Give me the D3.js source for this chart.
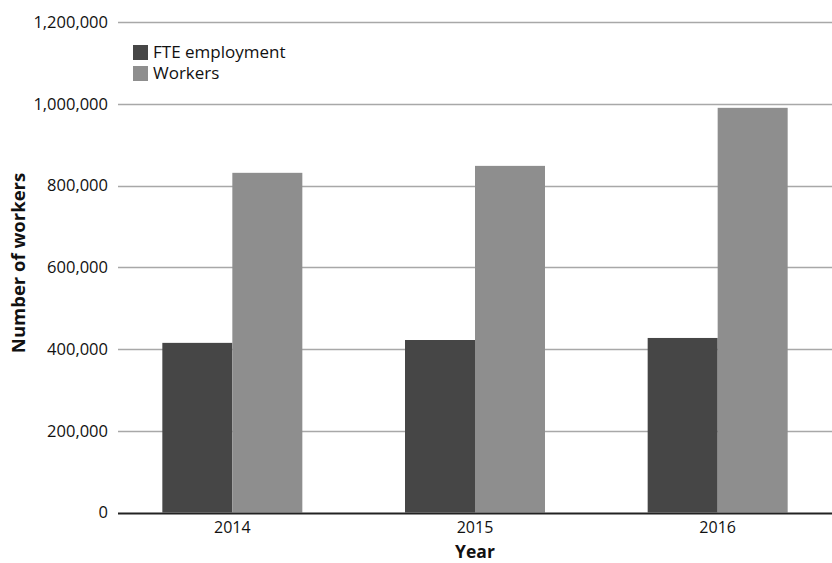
<!DOCTYPE html>
<html>
<head>
<meta charset="utf-8">
<script src="https://cdn.jsdelivr.net/npm/d3@7"></script>
<style>
  body { margin: 0; background: #fff; }
  text { font-family: "Open Sans", "Noto Sans", sans-serif; fill: #111; }
</style>
</head>
<body>
<div id="chart"></div>
<script>
// chart values
var years = ["2014", "2015", "2016"];
var seriesNames = ["FTE employment", "Workers"];
var fteValues = [415000, 422000, 427000];
var workerValues = [831000, 848000, 990000];
var yTicks = [0, 200000, 400000, 600000, 800000, 1000000, 1200000];

var width = 832, height = 563;
var colors = ["#464646", "#8e8e8e"];

var svg = d3.select("#chart").append("svg")
    .attr("width", width)
    .attr("height", height);

var y = d3.scaleLinear().domain([0, 1200000]).range([512.5, 22]);

// bands are a bit wider than the visible plot, last one runs off the edge
var x = d3.scaleBand().domain(years).range([111, 839]);
var xInner = d3.scaleBand().domain(seriesNames).range([0, 140]);

// gridlines
svg.append("g").selectAll("line")
    .data(yTicks.filter(function(d) { return d > 0; }))
    .enter().append("line")
    .attr("x1", 118).attr("x2", width)
    .attr("y1", function(d) { return Math.round(y(d)) + 0.5; })
    .attr("y2", function(d) { return Math.round(y(d)) + 0.5; })
    .style("stroke", "#a8a8a8")
    .style("stroke-width", 1.3);

// y tick labels
svg.append("g").selectAll("text")
    .data(yTicks)
    .enter().append("text")
    .attr("x", 108)
    .attr("y", function(d) { return y(d); })
    .attr("dy", "0.35em")
    .attr("text-anchor", "end")
    .style("font-size", "16.5px")
    .text(function(d) { return d3.format(",")(d); });

// bars
var rows = years.map(function(yr, i) {
    return { year: yr, values: [fteValues[i], workerValues[i]] };
});

var groups = svg.append("g").selectAll("g")
    .data(rows)
    .enter().append("g")
    .attr("transform", function(d) {
        return "translate(" + (x(d.year) + x.bandwidth() / 2 - 70) + ",0)";
    });

groups.selectAll("rect")
    .data(function(d) {
        return d.values.map(function(v, j) { return { name: seriesNames[j], value: v, i: j }; });
    })
    .enter().append("rect")
    .attr("x", function(d) { return xInner(d.name); })
    .attr("width", xInner.bandwidth())
    .attr("y", function(d) { return y(d.value); })
    .attr("height", function(d) { return y(0) - y(d.value); })
    .style("fill", function(d) { return colors[d.i]; });

// baseline
svg.append("line")
    .attr("x1", 118).attr("x2", width)
    .attr("y1", 513.5).attr("y2", 513.5)
    .style("stroke", "#222")
    .style("stroke-width", 2.2);

// x tick labels
svg.append("g").selectAll("text")
    .data(years)
    .enter().append("text")
    .attr("x", function(d) { return x(d) + x.bandwidth() / 2; })
    .attr("y", 533)
    .attr("text-anchor", "middle")
    .style("font-size", "16px")
    .text(function(d) { return d; });

// axis titles
svg.append("text")
    .attr("x", 475)
    .attr("y", 557.5)
    .attr("text-anchor", "middle")
    .style("font-size", "17.5px")
    .style("font-weight", "bold")
    .text("Year");

svg.append("text")
    .attr("transform", "translate(25,263) rotate(-90)")
    .attr("text-anchor", "middle")
    .style("font-size", "18.5px")
    .style("font-weight", "bold")
    .text("Number of workers");

// legend
var legend = svg.append("g").selectAll("g")
    .data(seriesNames)
    .enter().append("g")
    .attr("transform", function(d, i) { return "translate(133," + (45 + i * 21) + ")"; });

legend.append("rect")
    .attr("width", 15).attr("height", 15)
    .style("fill", function(d, i) { return colors[i]; });

legend.append("text")
    .attr("x", 20)
    .attr("y", 7.5)
    .attr("dy", "0.35em")
    .style("font-size", "17px")
    .text(function(d) { return d; });
</script>
</body>
</html>
